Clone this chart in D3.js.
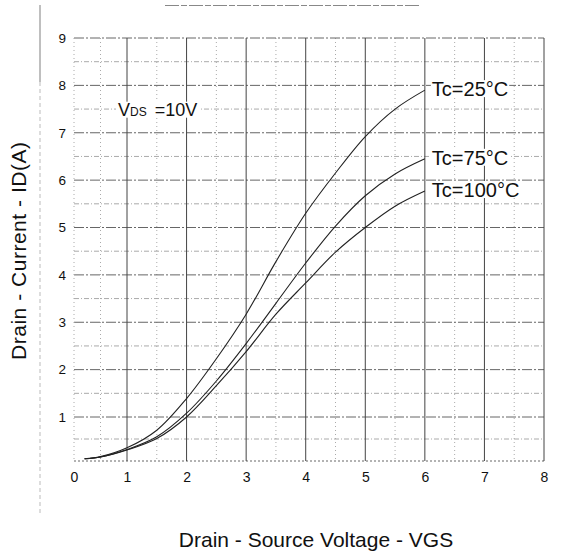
<!DOCTYPE html>
<html>
<head>
<meta charset="utf-8">
<script src="https://cdn.jsdelivr.net/npm/d3@7"></script>
<style>
  html, body { margin: 0; padding: 0; background: #fff; }
  svg { display: block; }
  text { font-family: "Liberation Sans", Arial, Helvetica, sans-serif; fill: #111; }
</style>
</head>
<body>
<svg id="chart" width="574" height="554"></svg>
<script>
// ---- data ----
const vgs   = [0.2, 0.5, 1.0, 1.5, 2.0, 2.5, 3.0, 3.5, 4.0, 4.5, 5.0, 5.5, 6.0];
const id25  = [0.05, 0.10, 0.30, 0.70, 1.39, 2.23, 3.17, 4.28, 5.30, 6.15, 6.92, 7.50, 7.90];
const id75  = [0.05, 0.09, 0.26, 0.55, 1.08, 1.76, 2.55, 3.40, 4.25, 5.03, 5.67, 6.13, 6.45];
const id100 = [0.05, 0.09, 0.25, 0.51, 1.00, 1.66, 2.38, 3.17, 3.83, 4.48, 5.00, 5.45, 5.77];
const seriesNames = ["Tc=25°C", "Tc=75°C", "Tc=100°C"];
const xTicks = [0, 1, 2, 3, 4, 5, 6, 7, 8];
const yTicks = [1, 2, 3, 4, 5, 6, 7, 8, 9];
const xTitle = "Drain - Source Voltage - VGS";
const yTitle = "Drain - Current - ID(A)";

const series = [id25, id75, id100].map((vals, i) => ({
  name: seriesNames[i],
  pts: vgs.map((v, j) => ({x: v, y: vals[j]}))
}));

const svg = d3.select("#chart");
const x = d3.scaleLinear().domain([0, 1, 8]).range([74, 127, 544]);
const y = d3.scaleLinear().domain([0, 1, 9]).range([461, 417, 38]);
const [x0, x1] = [x(0), x(8)];
const [y0, y1] = [y(0), y(9)];

// scan frame remnants
svg.append("line").attr("x1", 40).attr("x2", 40).attr("y1", 5).attr("y2", 82)
  .attr("stroke", "#aaa").attr("stroke-width", 1.5);
svg.append("line").attr("x1", 40).attr("x2", 40).attr("y1", 82).attr("y2", 513)
  .attr("stroke", "#bbb").attr("stroke-width", 1).attr("stroke-dasharray", "4,3");
svg.append("line").attr("x1", 165).attr("x2", 420).attr("y1", 5.5).attr("y2", 5.5)
  .attr("stroke", "#888").attr("stroke-width", 1).attr("stroke-dasharray", "14,2,6,2");

const grid = svg.append("g");
// half-unit gridlines (faint dotted)
const xHalf = d3.range(0.5, 8, 1), yHalf = d3.range(0.5, 9, 1);
grid.selectAll(".vh").data(xHalf).join("line")
  .attr("x1", d => x(d)).attr("x2", d => x(d)).attr("y1", y1).attr("y2", y0)
  .attr("stroke", "#aaa").attr("stroke-width", 1).attr("stroke-dasharray", "1,3");
grid.selectAll(".hh").data(yHalf).join("line")
  .attr("x1", x0).attr("x2", x1).attr("y1", d => y(d)).attr("y2", d => y(d))
  .attr("stroke", "#aaa").attr("stroke-width", 1).attr("stroke-dasharray", "5,2,1,2");
// integer horizontal gridlines
grid.selectAll(".hi").data([0].concat(yTicks)).join("line")
  .attr("x1", x0).attr("x2", x1).attr("y1", d => y(d)).attr("y2", d => y(d))
  .attr("stroke", "#666").attr("stroke-width", 1)
  .attr("stroke-dasharray", d => d === 0 ? "2,2" : "10,2,2,2");
// integer vertical gridlines
grid.selectAll(".vi").data(xTicks).join("line")
  .attr("x1", d => x(d)).attr("x2", d => x(d)).attr("y1", y1).attr("y2", y0)
  .attr("stroke", d => d === 0 ? "#aaa" : "#444").attr("stroke-width", 1)
  .attr("stroke-dasharray", d => d === 0 ? "1,3" : null);

// curves
const line = d3.line().x(d => x(d.x)).y(d => y(d.y)).curve(d3.curveCatmullRom.alpha(0.5));
svg.append("g").selectAll("path").data(series).join("path")
  .attr("d", d => line(d.pts))
  .attr("fill", "none").attr("stroke", "#222").attr("stroke-width", 1.1);

// axes (labels only)
const ax = svg.append("g").attr("transform", `translate(0,${y0})`)
  .call(d3.axisBottom(x).tickValues(xTicks).tickSize(0).tickPadding(11).tickFormat(d3.format("d")));
ax.select(".domain").remove();
ax.selectAll("text").attr("font-size", 14).style("font-family", "'Liberation Sans', Arial, sans-serif").attr("fill", "#111");

const ay = svg.append("g").attr("transform", `translate(${x0},0)`)
  .call(d3.axisLeft(y).tickValues(yTicks).tickSize(0).tickPadding(8).tickFormat(d3.format("d")));
ay.select(".domain").remove();
ay.selectAll("text").attr("font-size", 13.5).style("font-family", "'Liberation Sans', Arial, sans-serif").attr("fill", "#111");

// series labels with white background
const lab = svg.append("g").selectAll("g").data(series).join("g")
  .attr("transform", d => `translate(${x(6) + 7},${y(d.pts[d.pts.length - 1].y) + 6})`);
lab.append("rect").attr("fill", "#fff");
lab.append("text").attr("font-size", 20).text(d => d.name);
lab.each(function() {
  const g = d3.select(this);
  const b = g.select("text").node().getBBox();
  g.select("rect").attr("x", b.x - 1).attr("y", b.y + 2).attr("width", b.width + 2).attr("height", b.height - 5);
});

// VDS annotation
const vg = svg.append("g").attr("transform", `translate(${x(0.83)},${y(7.36)})`);
const vbg = vg.append("rect").attr("fill", "#fff");
const vt = vg.append("text").attr("font-size", 18);
vt.append("tspan").text("V");
vt.append("tspan").attr("font-size", 12).text("DS");
vt.append("tspan").attr("dx", 8).text("=10V");
const vb = vt.node().getBBox();
vbg.attr("x", vb.x - 2).attr("y", vb.y + 2).attr("width", vb.width + 4).attr("height", vb.height - 4);

// axis titles
svg.append("text").attr("x", 316).attr("y", 547).attr("text-anchor", "middle")
  .attr("font-size", 21).text(xTitle);
svg.append("text").attr("transform", "translate(26,251) rotate(-90)").attr("text-anchor", "middle")
  .attr("font-size", 21).attr("textLength", 218).attr("lengthAdjust", "spacing").text(yTitle);
</script>
</body>
</html>
